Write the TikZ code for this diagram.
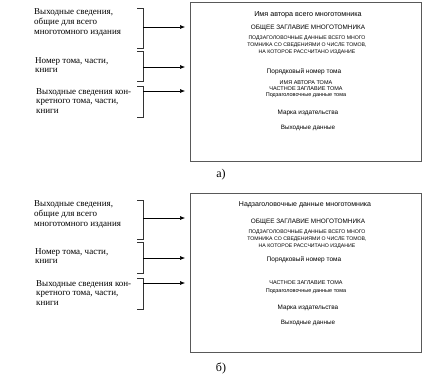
\documentclass[tikz,border=0pt]{standalone}
\usepackage{fontspec}
\setmainfont{Liberation Serif}
\newfontfamily\arialfont{Liberation Sans}
\usetikzlibrary{arrows.meta}

\begin{document}
\begin{tikzpicture}[x=1pt, y=-1pt,
   lefttext/.style={anchor=west, align=left, inner sep=0pt, font=\fontsize{9}{9.6}\selectfont},
   pagetext/.style={align=center, inner sep=0pt},
   pagebox/.style={draw=black!65, line width=0.9pt, minimum width=231pt, minimum height=159pt, inner sep=0pt},
   brace/.style={draw=black!80, line width=0.6pt},
   arrow/.style={-{Latex[length=5pt,width=4pt]}, line width=0.6pt, shorten >=4.5pt}]
   \useasboundingbox (0,0) rectangle (424,374);
   % panel a
   \node[pagebox] (boxa) at (305.5,81.5) {};
   \node[lefttext] (la1) at (34,22.5) {Выходные сведения,\\общие для всего\\многотомного издания};
   \node[lefttext] (la2) at (35,65) {Номер тома, части,\\книги};
   \node[lefttext] (la3) at (36,101) {Выходные сведения кон-\\кретного тома, части,\\книги};
   \draw[brace] (137,8) -- (143,8) -- (143,48) -- (137,48);
   \draw[brace] (137,51) -- (143,51) -- (143,81) -- (137,81);
   \draw[brace] (137,86) -- (143,86) -- (143,117) -- (137,117);
   \coordinate (sa1) at (143,27);
   \coordinate (sa2) at (143,67);
   \coordinate (sa3) at (143,91);
   \draw[arrow] (sa1) -- (sa1 -| boxa.west);
   \draw[arrow] (sa2) -- (sa2 -| boxa.west);
   \draw[arrow] (sa3) -- (sa3 -| boxa.west);
   \node[pagetext, font=\arialfont\fontsize{7.2}{7}\selectfont] (pa1) at (308,15) {Имя автора всего многотомника};
   \node[pagetext, font=\arialfont\fontsize{6.4}{6}\selectfont] (pa2) at (308,28) {ОБЩЕЕ ЗАГЛАВИЕ МНОГОТОМНИКА};
   \node[pagetext, font=\arialfont\fontsize{5.2}{6.8}\selectfont] (pa3) at (307,45) {ПОДЗАГОЛОВОЧНЫЕ ДАННЫЕ ВСЕГО МНОГО\\ТОМНИКА СО СВЕДЕНИЯМИ О ЧИСЛЕ ТОМОВ,\\НА КОТОРОЕ РАССЧИТАНО ИЗДАНИЕ};
   \node[pagetext, font=\arialfont\fontsize{6.5}{6.5}\selectfont] (pa4) at (304,72) {Порядковый номер тома};
   \node[pagetext, font=\arialfont\fontsize{5.5}{6}\selectfont] (pa5) at (306,89) {ИМЯ АВТОРА ТОМА\\ЧАСТНОЕ ЗАГЛАВИЕ ТОМА\\Подзаголовочные данные тома};
   \node[pagetext, font=\arialfont\fontsize{6.4}{6}\selectfont] (pa6) at (308,113) {Марка издательства};
   \node[pagetext, font=\arialfont\fontsize{6.3}{6}\selectfont] (pa7) at (308,128) {Выходные данные};
   \node[inner sep=0pt, font=\fontsize{12}{12}\selectfont] (capa) at (221,175) {а)};
   % panel b
   \node[pagebox] (boxb) at (305.5,273) {};
   \node[lefttext] (lb1) at (34,214.5) {Выходные сведения,\\общие для всего\\многотомного издания};
   \node[lefttext] (lb2) at (35,256) {Номер тома, части,\\книги};
   \node[lefttext] (lb3) at (36,293) {Выходные сведения кон-\\кретного тома, части,\\книги};
   \draw[brace] (137,200) -- (143,200) -- (143,239) -- (137,239);
   \draw[brace] (137,242) -- (143,242) -- (143,273) -- (137,273);
   \draw[brace] (137,278) -- (143,278) -- (143,309) -- (137,309);
   \coordinate (sb1) at (143,218);
   \coordinate (sb2) at (143,258);
   \coordinate (sb3) at (143,283);
   \draw[arrow] (sb1) -- (sb1 -| boxb.west);
   \draw[arrow] (sb2) -- (sb2 -| boxb.west);
   \draw[arrow] (sb3) -- (sb3 -| boxb.west);
   \node[pagetext, font=\arialfont\fontsize{7}{7}\selectfont] (pb1) at (305,205) {Надзаголовочные данные многотомника};
   \node[pagetext, font=\arialfont\fontsize{6.4}{6}\selectfont] (pb2) at (308,222) {ОБЩЕЕ ЗАГЛАВИЕ МНОГОТОМНИКА};
   \node[pagetext, font=\arialfont\fontsize{5.2}{6.8}\selectfont] (pb3) at (307,239) {ПОДЗАГОЛОВОЧНЫЕ ДАННЫЕ ВСЕГО МНОГО\\ТОМНИКА СО СВЕДЕНИЯМИ О ЧИСЛЕ ТОМОВ,\\НА КОТОРОЕ РАССЧИТАНО ИЗДАНИЕ};
   \node[pagetext, font=\arialfont\fontsize{6.5}{6.5}\selectfont] (pb4) at (304,260) {Порядковый номер тома};
   \node[pagetext, font=\arialfont\fontsize{5.5}{7.5}\selectfont] (pb5) at (306,287) {ЧАСТНОЕ ЗАГЛАВИЕ ТОМА\\Подзаголовочные данные тома};
   \node[pagetext, font=\arialfont\fontsize{6.4}{6}\selectfont] (pb6) at (308,308) {Марка издательства};
   \node[pagetext, font=\arialfont\fontsize{6.3}{6}\selectfont] (pb7) at (308,323) {Выходные данные};
   \node[inner sep=0pt, font=\fontsize{12}{12}\selectfont] (capb) at (221,368) {б)};
\end{tikzpicture}
\end{document}
